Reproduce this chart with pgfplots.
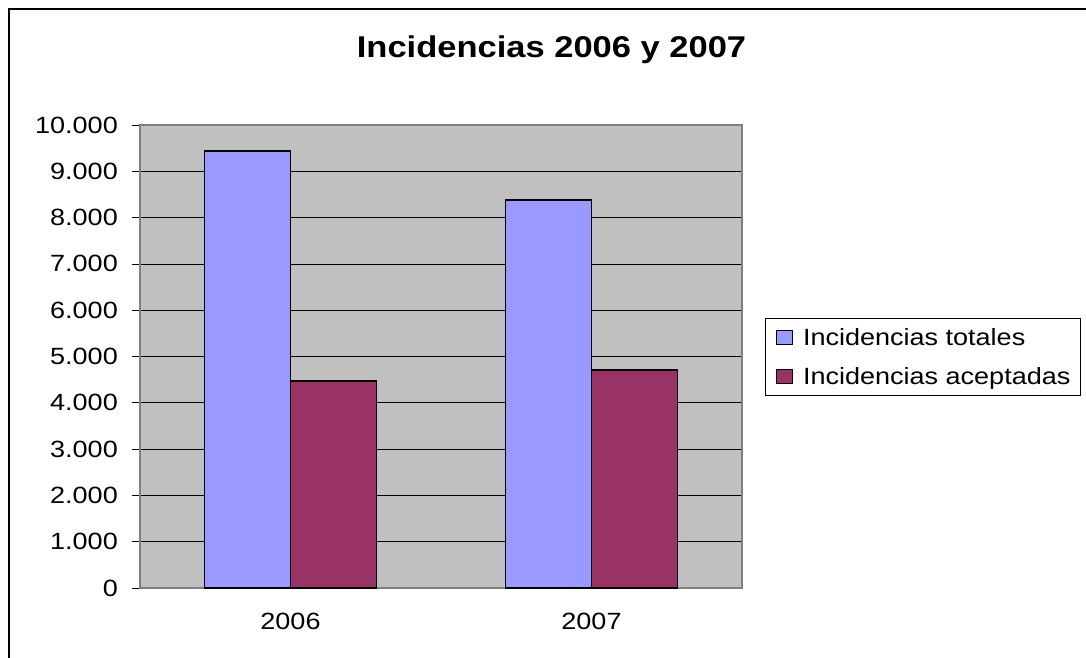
\documentclass[border=0pt]{standalone}
\usepackage{pgfplots}
\usepackage{pgfplotstable}
\pgfplotsset{compat=1.18}
\usepackage{fontspec}
\setmainfont[FakeStretch=1.15]{Liberation Sans}
\definecolor{totcol}{HTML}{9999FF}
\definecolor{acccol}{HTML}{993366}
\definecolor{bggray}{HTML}{C0C0C0}
\definecolor{axgray}{HTML}{808080}

\pgfplotstableread{
x total aceptadas
0 9440 4475
1 8380 4705
}\datatable

\begin{document}
\begin{tikzpicture}[x=1pt,y=1pt]
\useasboundingbox (0,0) rectangle (1086,657);
\draw[line width=1.5pt] (9,-5) -- (9,648) -- (1095,648);
\begin{axis}[
  at={(140pt,69pt)}, anchor=south west,
  scale only axis, width=602pt, height=463pt,
  ybar=0pt, bar width=86pt,
  xmin=-0.5, xmax=1.5, ymin=0, ymax=10000,
  xtick={0,1}, xticklabels={2006,2007},
  xtick style={draw=none},
  extra x ticks={-0.5,0.5,1.5}, extra x tick labels={},
  extra x tick style={grid=none, tick style={draw=axgray, line width=1pt}},
  ytick distance=1000,
  tick align=outside, major tick length=8pt,
  tick pos=left,
  ytick style={draw=black, line width=0.8pt},
  axis background/.style={fill=bggray},
  axis line style={draw=axgray, line width=1.5pt},
  ymajorgrids, major grid style={draw=black, line width=0.8pt},
  tick label style={font=\fontsize{23.5}{28}\selectfont},
  /pgf/number format/assume math mode=true,
  yticklabel style={inner sep=0pt, xshift=-14pt,
    /pgf/number format/.cd, fixed, precision=0, 1000 sep={.}},
  scaled y ticks=false,
  xticklabel style={inner sep=0pt, yshift=-17pt},
  title={Incidencias 2006 y 2007},
  title style={at={(0.6836,1.1453)}, anchor=base, inner sep=0pt, yshift=-6pt,
    font=\fontsize{30}{36}\selectfont\bfseries},
  legend cell align=left,
  legend image code/.code={\draw[#1, line width=1.5pt] (0pt,-7pt) rectangle (16pt,7pt);},
  legend style={at={(1.0382,0.5832)}, anchor=north west,
    draw=black, line width=1pt, fill=white,
    inner xsep=10pt, inner ysep=10pt,
    row sep=21pt, column sep=10pt,
    nodes={inner sep=0pt, text height=17pt, text depth=1pt},
    font=\fontsize{23.5}{28}\selectfont},
  clip=false,
]
\addplot[fill=totcol, draw=black, line width=1.8pt] table[x=x,y=total]{\datatable};
\addplot[fill=acccol, draw=black, line width=1.8pt] table[x=x,y=aceptadas]{\datatable};
\legend{Incidencias totales, Incidencias aceptadas}
\end{axis}
\end{tikzpicture}
\end{document}
